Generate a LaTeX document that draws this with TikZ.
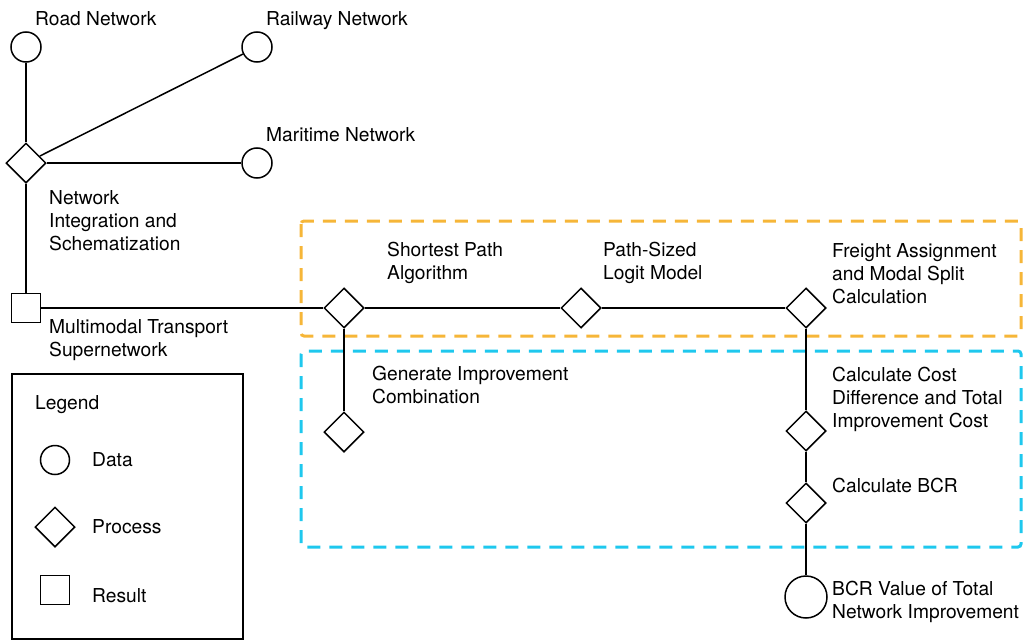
\documentclass[tikz,border=0pt]{standalone}
\usepackage{fontspec}
\setmainfont{TeX Gyre Heros}
\usetikzlibrary{shapes.geometric}
\definecolor{groupA}{RGB}{246,182,56}
\definecolor{groupB}{RGB}{30,200,238}
\tikzset{
  datanode/.style={circle, draw, line width=1.5pt, minimum size=30pt, inner sep=0pt},
  procnode/.style={diamond, draw, line width=1.5pt, minimum width=40pt, minimum height=40pt, inner sep=0pt},
  resnode/.style={rectangle, draw, line width=1.5pt, minimum size=29pt, inner sep=0pt},
  % anchored at the baseline of the last line
  lbl/.style={anchor=base west, inner sep=0pt, align=left, font=\fontsize{19.2pt}{23pt}\selectfont},
  link/.style={line width=1.5pt},
  groupbox/.style={line width=3pt, dash pattern=on 13pt off 9pt, rounded corners=3pt}
}
\begin{document}
\begin{tikzpicture}[x=1pt, y=-1pt]
  \useasboundingbox (0,0) rectangle (1027,642);

  % dashed groupings
  \draw[groupbox, groupA] (301,221) rectangle (1021,336);
  \draw[groupbox, groupB] (301,351) rectangle (1021,547);

  % input networks
  \node[datanode] (road) at (26,47) {};
  \node[datanode] (rail) at (257,47) {};
  \node[datanode] (sea) at (257,163) {};
  \node[procnode] (integ) at (26,163) {};
  \node[resnode] (super) at (26,308) {};

  % assignment chain
  \node[procnode] (sp) at (344,308) {};
  \node[procnode] (psl) at (581,308) {};
  \node[procnode] (fa) at (806,308) {};

  % evaluation chain
  \node[procnode] (gen) at (344,432) {};
  \node[procnode] (cost) at (806,431) {};
  \node[procnode] (bcr) at (806,503) {};
  \node[datanode, minimum size=42pt] (bcrval) at (806,597) {};

  % connectors
  \draw[link] (road) -- (integ);
  \draw[link] (integ) -- (rail);
  \draw[link] (integ) -- (sea);
  \draw[link] (integ) -- (super);
  \draw[link] (super) -- (sp);
  \draw[link] (sp) -- (psl);
  \draw[link] (psl) -- (fa);
  \draw[link] (sp) -- (gen);
  \draw[link] (fa) -- (cost);
  \draw[link] (cost) -- (bcr);
  \draw[link] (bcr) -- (bcrval);

  % labels
  \node[lbl] (tRoad) at (35,25.5) {Road Network};
  \node[lbl] (tRail) at (266,25.5) {Railway Network};
  \node[lbl] (tSea) at (266,141) {Maritime Network};
  \node[lbl] (tInteg) at (49,250) {Network\\Integration and\\Schematization};
  \node[lbl] (tSuper) at (49,356) {Multimodal Transport\\Supernetwork};
  \node[lbl] (tSp) at (387,279) {Shortest Path\\Algorithm};
  \node[lbl] (tPsl) at (603,279) {Path-Sized\\Logit Model};
  \node[lbl] (tFa) at (832,303) {Freight Assignment\\and Modal Split\\Calculation};
  \node[lbl] (tGen) at (372,403) {Generate Improvement\\Combination};
  \node[lbl] (tCost) at (832,427) {Calculate Cost\\Difference and Total\\Improvement Cost};
  \node[lbl] (tBcr) at (832,492) {Calculate BCR};
  \node[lbl] (tVal) at (832,618) {BCR Value of Total\\Network Improvement};

  % legend
  \node[draw, line width=1.5pt, minimum width=231pt, minimum height=265pt, inner sep=0pt] (legend) at (127.5,506.5) {};
  \node[lbl] (tLegend) at (35,409) {Legend};
  \node[datanode, minimum size=29pt] (kData) at (55,460) {};
  \node[procnode] (kProc) at (55,527) {};
  \node[resnode] (kRes) at (55,590) {};
  \node[lbl] (tData) at (92,466) {Data};
  \node[lbl] (tProc) at (92,533) {Process};
  \node[lbl] (tRes) at (92,602) {Result};
\end{tikzpicture}
\end{document}
